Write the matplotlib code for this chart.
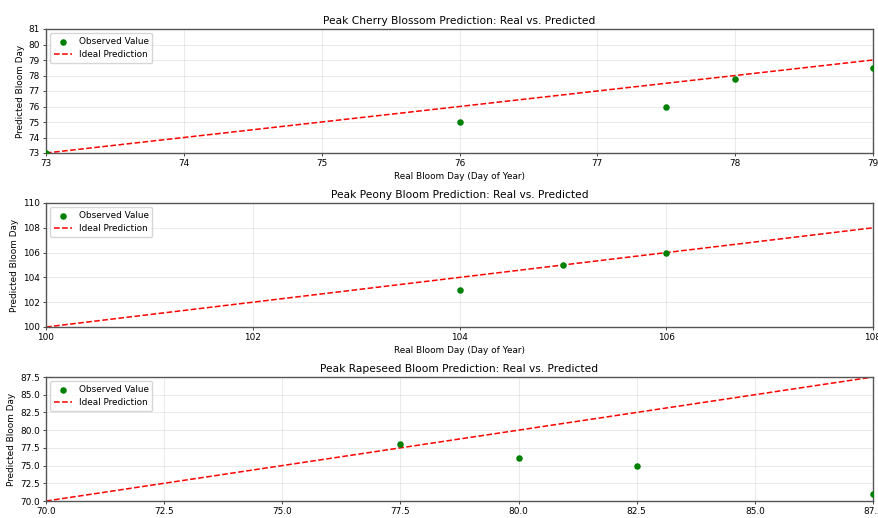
import matplotlib
matplotlib.use("Agg")
import matplotlib.pyplot as plt
from matplotlib.ticker import MultipleLocator

cherry_real = [73, 76, 77.5, 78, 79]
cherry_pred = [73, 75, 76, 77.8, 78.5]
cherry_xlim = [73, 79]
cherry_ylim = [73, 81]

peony_real = [104, 105, 106]
peony_pred = [103, 105, 106]
peony_xlim = [100, 108]
peony_ylim = [100, 110]

rape_real = [77.5, 80, 82.5, 87.5]
rape_pred = [78, 76, 75, 71]
rape_xlim = [70, 87.5]
rape_ylim = [70, 87.5]

x_steps = [1, 2, 2.5]
y_steps = [1, 2, 2.5]

titles = ["Peak Cherry Blossom Prediction: Real vs. Predicted",
          "Peak Peony Bloom Prediction: Real vs. Predicted",
          "Peak Rapeseed Bloom Prediction: Real vs. Predicted"]

panels = [(cherry_real, cherry_pred, cherry_xlim, cherry_ylim),
          (peony_real, peony_pred, peony_xlim, peony_ylim),
          (rape_real, rape_pred, rape_xlim, rape_ylim)]

k = 0.643
plt.rcParams.update({
    "xtick.major.size": 3.5 * k, "ytick.major.size": 3.5 * k,
    "xtick.major.width": 0.8 * k, "ytick.major.width": 0.8 * k,
    "xtick.major.pad": 3.5 * k, "ytick.major.pad": 3.5 * k,
    "axes.labelpad": 4 * k, "axes.titlepad": 6 * k,
    "legend.borderpad": 0.4, "legend.handlelength": 2.0,
})

fig = plt.figure(figsize=(8.79, 5.18), dpi=100)
W, H = 879, 518
left, right = 46, 873
tops = [29, 203, 377]
h = 124
for (xr, yp, xl, yl), title, top, xs, ys in zip(panels, titles, tops, x_steps, y_steps):
    ax = fig.add_axes([left / W, 1 - (top + h) / H, (right - left) / W, h / H])
    ax.scatter(xr, yp, color="green", s=22, zorder=3, label="Observed Value",
               linewidths=0)
    ax.plot(xl, xl, "r--", lw=1.1, label="Ideal Prediction")
    ax.set_xlim(xl)
    ax.set_ylim(yl)
    ax.xaxis.set_major_locator(MultipleLocator(xs))
    ax.yaxis.set_major_locator(MultipleLocator(ys))
    ax.set_title(title, fontsize=7.7)
    ax.set_xlabel("Real Bloom Day (Day of Year)", fontsize=6.4)
    ax.set_ylabel("Predicted Bloom Day", fontsize=6.4)
    ax.tick_params(labelsize=6.4)
    ax.grid(True, alpha=0.3, lw=0.6)
    ax.legend(loc="upper left", fontsize=6.4)
    for s in ax.spines.values():
        s.set_color("#555555")
        s.set_linewidth(1.0)

fig.savefig("out.png", dpi=100)
